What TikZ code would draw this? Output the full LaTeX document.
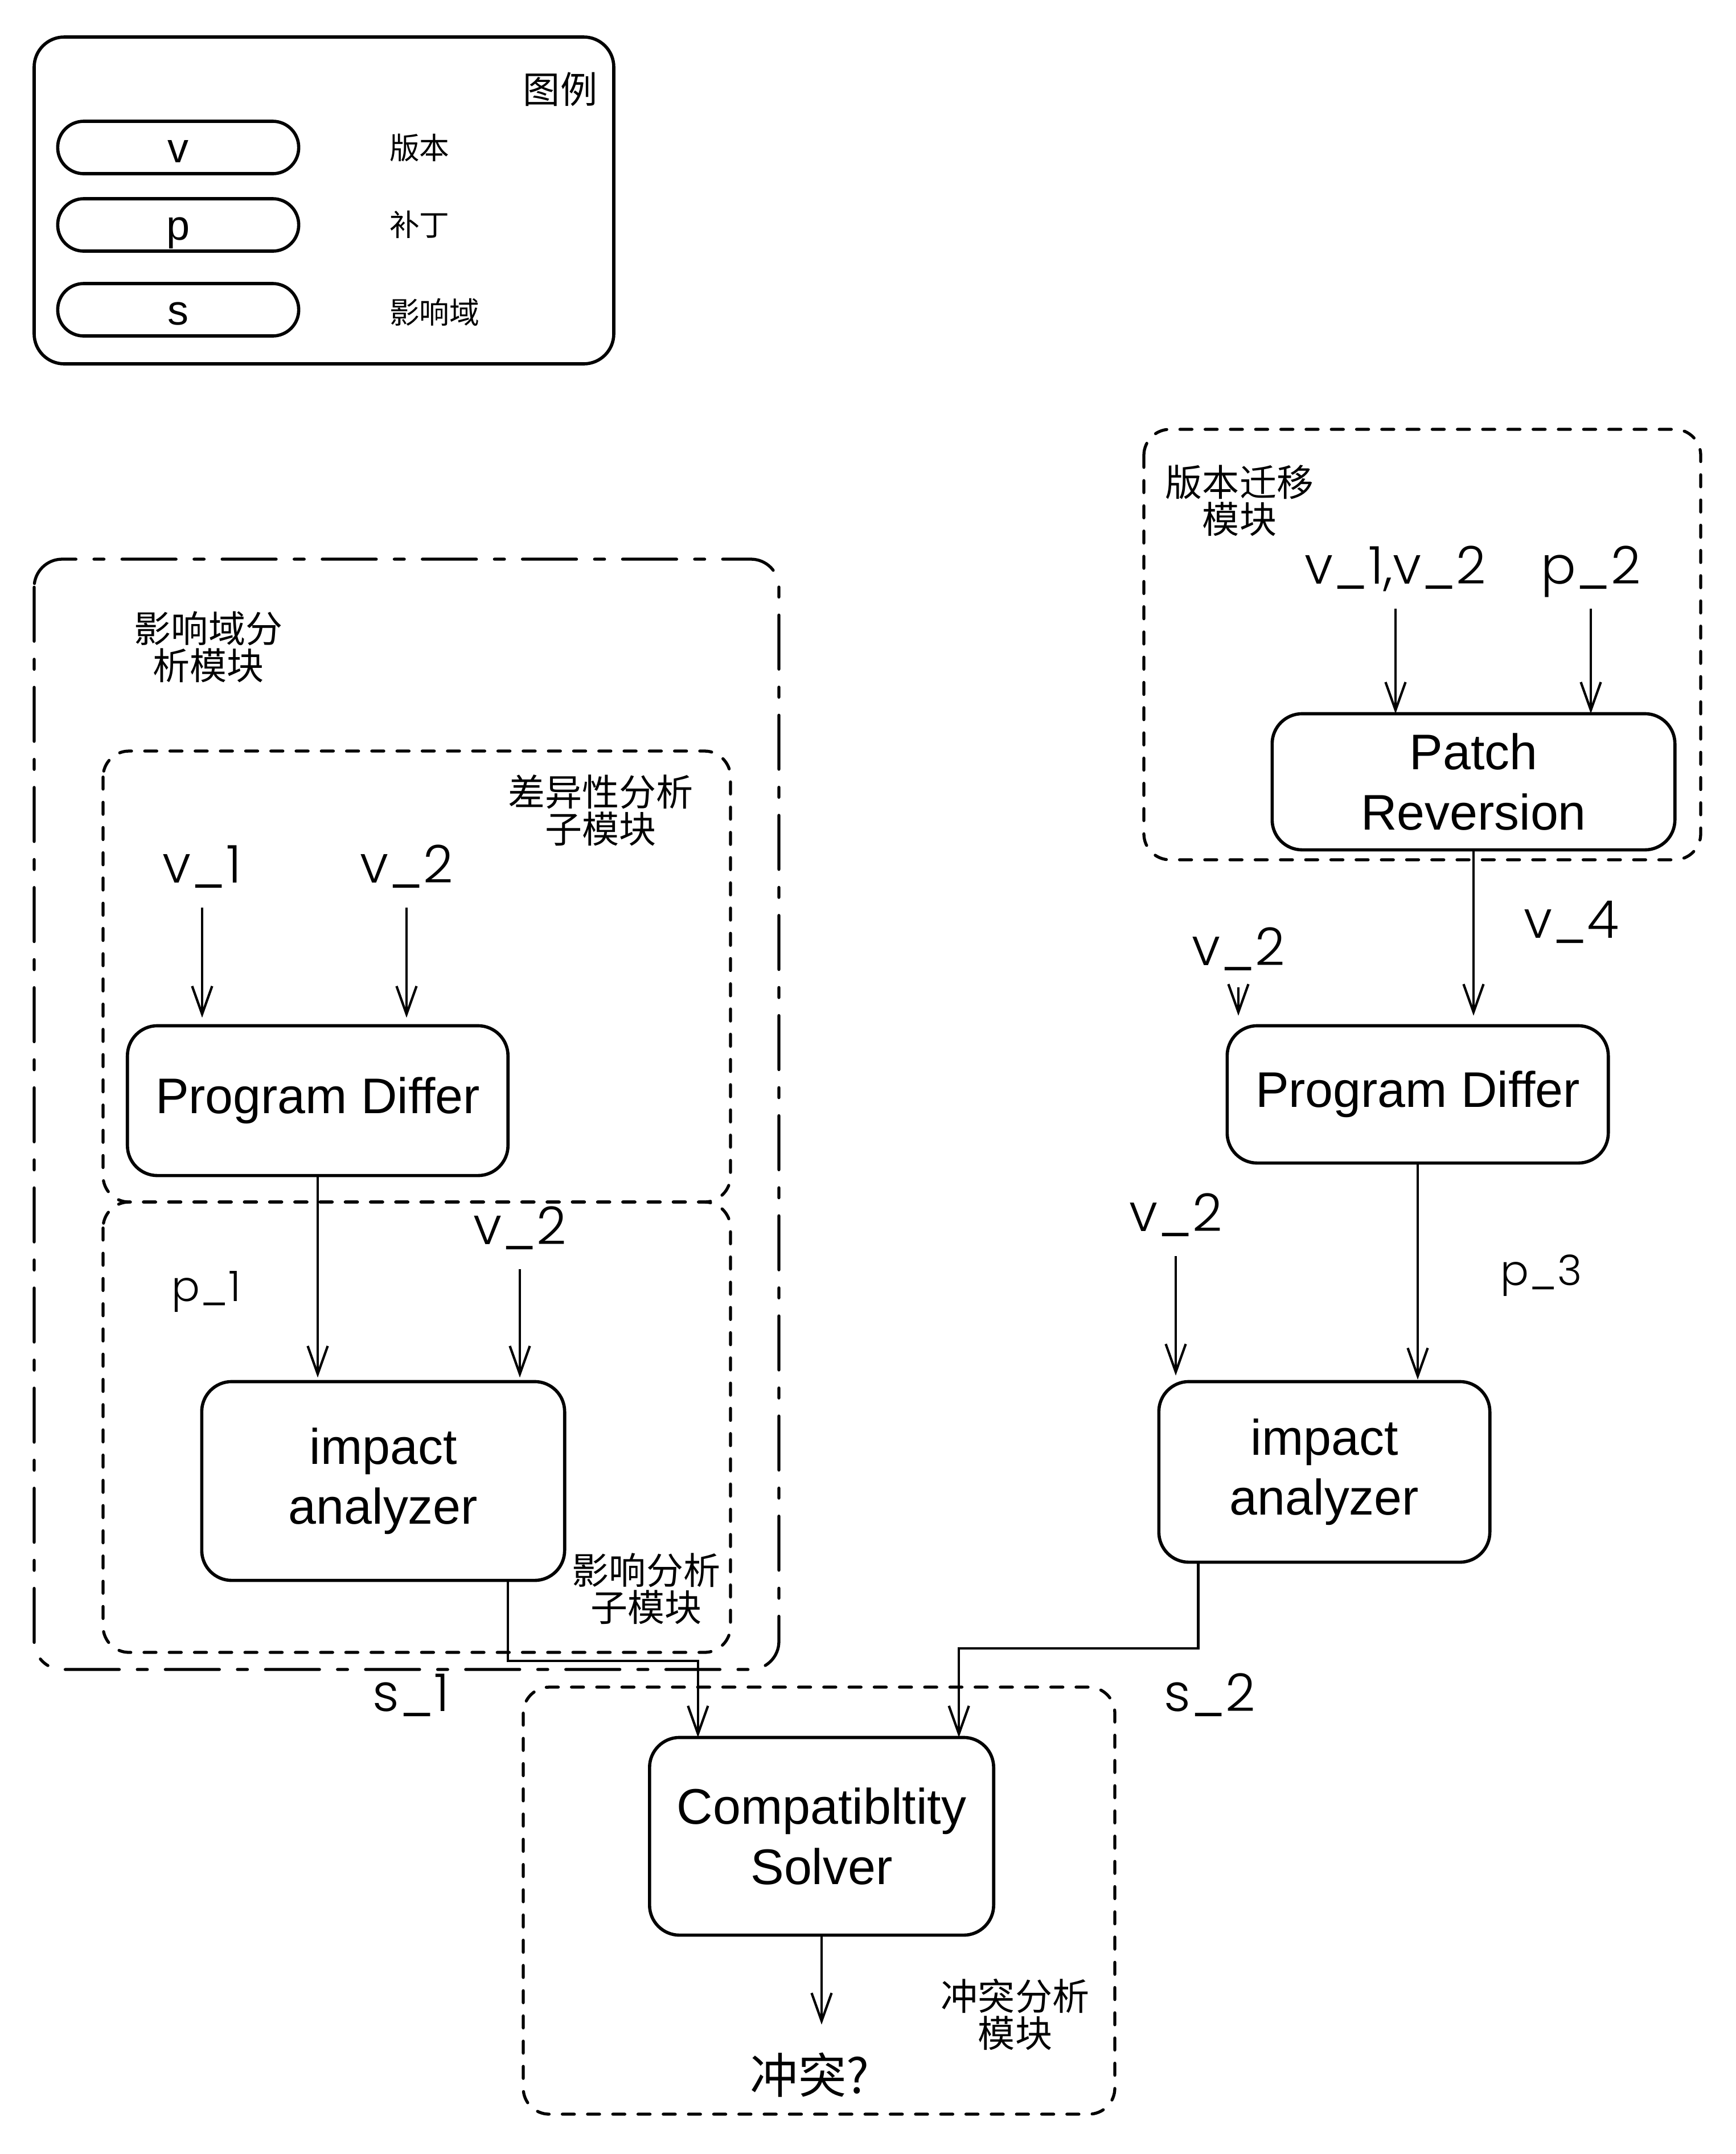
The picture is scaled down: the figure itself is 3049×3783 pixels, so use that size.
\documentclass[tikz,border=0pt]{standalone}
\usepackage{fontspec}
\setmainfont{Liberation Sans}
\newfontfamily\cjkfont{Noto Sans CJK SC}
\newfontfamily\varfont{Poppins}[UprightFont=* Light]
\usepackage{tikz}
\usetikzlibrary{arrows.meta}
\usetikzlibrary{calc}

\begin{document}
\begin{tikzpicture}[x=0.01cm, y=-0.01cm, outer sep=0pt]
          \newcommand{\boxlw}{1.6pt}
          \newcommand{\arrlw}{1.2pt}
          \newcommand{\modlw}{1.5pt}
          \newcommand{\labgap}{12.5pt}

          \tikzstyle{block}=[
            draw,
            rectangle,
            rounded corners=15pt,
            line width=\boxlw,
            align=center,
            inner sep=0pt,
            font=\fontsize{25}{30}\selectfont
          ]
          \tikzstyle{pill}=[
            draw,
            rectangle,
            rounded corners=13pt,
            line width=\boxlw,
            minimum width=4.23cm,
            minimum height=0.92cm,
            text height=15pt,
            text depth=0pt,
            font=\fontsize{21}{25}\selectfont
          ]
          \tikzstyle{module}=[draw, rounded corners=13pt, line width=\modlw, line cap=round, dash pattern=on 6pt off 6.6pt]
          \tikzstyle{outermodule}=[draw, rounded corners=14pt, line width=\modlw, line cap=round, dash pattern=on 27pt off 9pt on 5pt off 9pt]
          \tikzstyle{modname}=[align=center, inner sep=0pt, font=\cjkfont\fontsize{18.5}{18.5}\selectfont]
          \tikzstyle{legtext}=[anchor=west, inner sep=0pt, font=\cjkfont\fontsize{15}{18}\selectfont]
          \tikzstyle{vlabel}=[anchor=base, inner sep=0pt, font=\varfont\fontsize{26}{30}\selectfont]
          \tikzstyle{plabel}=[anchor=base, inner sep=0pt, font=\varfont\fontsize{21}{25}\selectfont]
          \tikzstyle{arrow}=[line width=\arrlw, -{Straight Barb[length=14pt,width=10pt]}]
          \tikzstyle{line}=[line width=\arrlw]

          \useasboundingbox (0,0) rectangle (3049,3783);

          % legend
          \draw[line width=\boxlw, rounded corners=15pt] (60,65) rectangle (1078,639);
          \node[inner sep=0pt, font=\cjkfont\fontsize{18.5}{20}\selectfont] (lgtitle) at (984,157) {图例};
          \node[pill] (lgv) at (313,259) {v};
          \node[pill] (lgp) at (313,395) {p};
          \node[pill] (lgs) at (313,544) {s};
          \node[legtext] (lgvtext) at (684,260) {版本};
          \node[legtext] (lgptext) at (684,394) {补丁};
          \node[legtext] (lgstext) at (684,548) {影响域};

          % impact module (left)
          \draw[outermodule] (60,982) rectangle (1368,2932);
          \draw[module] (181,1319) rectangle (1283,2111);
          \draw[module] (181,2111) rectangle (1283,2902);
          \node[modname] (impmod) at (366,1136) {影响域分\\析模块};
          \node[modname] (diffmod) at (1055,1423) {差异性分析\\子模块};
          \node[modname] (anamod) at (1135,2790) {影响分析\\子模块};

          \node[block, minimum width=6.68cm, minimum height=2.63cm] (pd1) at (558,1933) {Program Differ};
          \node[block, minimum width=6.37cm, minimum height=3.49cm] (ia1) at (673,2601) {impact\\analyzer};

          \node[vlabel] (v1a) at (355,1550) {v\_1};
          \node[vlabel] (v2a) at (714,1550) {v\_2};
          \node[vlabel] (v2b) at (913,2185) {v\_2};
          \node[plabel] (p1) at (362,2285) {p\_1};

          \draw[arrow, shorten <=\labgap, shorten >=4pt] (v1a.base) -- (v1a.base |- pd1.north);
          \draw[arrow, shorten <=\labgap, shorten >=4pt] (v2a.base) -- (v2a.base |- pd1.north);
          \draw[arrow, shorten >=2pt] (pd1) -- (pd1.south |- ia1.north);
          \draw[arrow, shorten <=\labgap, shorten >=2pt] (v2b.base) -- (v2b.base |- ia1.north);

          % migration module (right)
          \draw[module] (2009,754) rectangle (2987,1510);
          \node[modname] (migmod) at (2177,879) {版本迁移\\模块};
          \node[block, minimum width=7.07cm, minimum height=2.39cm] (pr) at (2588,1373) {Patch\\Reversion};
          \node[vlabel] (v12) at (2451,1025) {v\_1,v\_2};
          \node[vlabel] (p2) at (2794,1025) {p\_2};
          \draw[arrow, shorten <=\labgap] (v12.base) -- (v12.base |- pr.north);
          \draw[arrow, shorten <=\labgap] (p2.base) -- (p2.base |- pr.north);

          \node[block, minimum width=6.69cm, minimum height=2.41cm] (pd2) at (2490,1922) {Program Differ};
          \node[block, minimum width=5.81cm, minimum height=3.17cm] (ia2) at (2326,2585) {impact\\analyzer};
          \node[vlabel] (v4) at (2760,1647) {v\_4};
          \node[vlabel] (v2c) at (2175,1695) {v\_2};
          \node[vlabel] (v2d) at (2065,2162) {v\_2};
          \node[plabel] (p3) at (2707,2257) {p\_3};

          \draw[arrow, shorten >=5pt] (pr) -- (pr.south |- pd2.north);
          \draw[arrow, shorten <=11pt, shorten >=5pt] (v2c.base) -- (v2c.base |- pd2.north);
          \draw[arrow, shorten >=1pt] (pd2) -- (pd2.south |- ia2.north);
          \draw[arrow, shorten <=\labgap, shorten >=3pt] (v2d.base) -- (v2d.base |- ia2.north);

          % conflict module
          \draw[module] (919,2963) rectangle (1958,3713);
          \node[modname] (confmod) at (1783,3538) {冲突分析\\模块};
          \node[block, minimum width=6.04cm, minimum height=3.47cm] (cs) at (1443,3225) {Compatibltity\\Solver};
          \node[inner sep=0pt, font=\cjkfont\fontsize{24}{28}\selectfont] (conf) at (1422,3644) {冲突?};
          \draw[arrow, shorten >=14pt] (cs) -- (cs.south |- conf.north);

          \node[vlabel] (s1) at (722,3005) {s\_1};
          \node[vlabel] (s2) at (2125,3005) {s\_2};
          \draw[arrow] ([xshift=2.185cm]ia1.south) -- ++(0,141) -| ([xshift=-2.17cm]cs.north);
          \draw[arrow] ([xshift=-2.215cm]ia2.south) -- ++(0,151) -| ([xshift=2.41cm]cs.north);

        \end{tikzpicture}
\end{document}
